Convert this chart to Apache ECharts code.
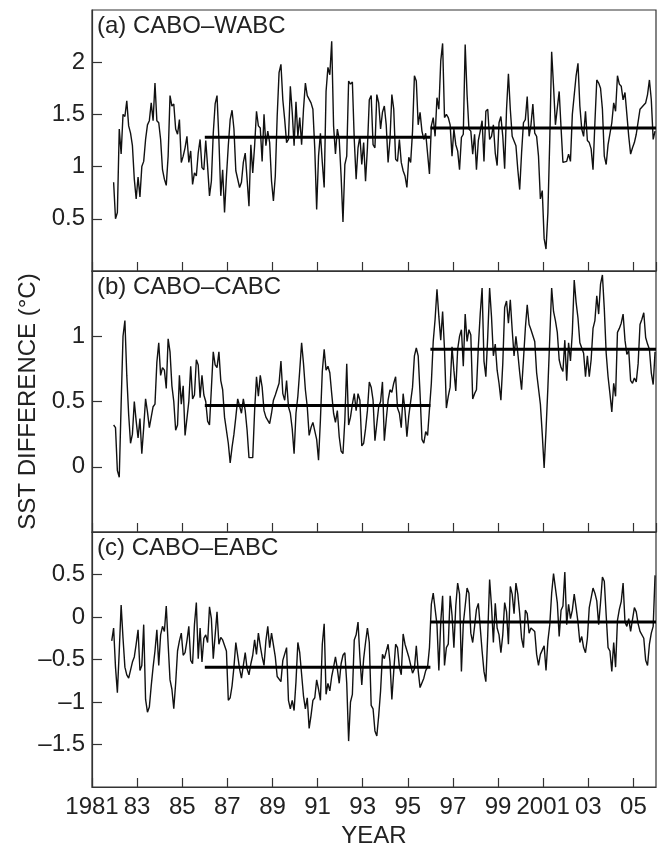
<!DOCTYPE html>
<html>
<head>
<meta charset="utf-8">
<script src="https://cdn.jsdelivr.net/npm/echarts@6/dist/echarts.min.js"></script>
<style>
html, body { margin: 0; padding: 0; background: #fff; }
#chart { width: 659px; height: 849px; }
</style>
</head>
<body>
<div id="chart"></div>
<script>
// 面板标题
const panelNames = ['(a) CABO\u2013WABC', '(b) CABO\u2013CABC', '(c) CABO\u2013EABC'];

// 月均SST差值 (°C), 从 startYears 开始每月一个点
const wabc = [
    0.85,0.50,0.56,1.36,1.12,1.50,1.48,1.63,1.39,1.32,1.20,0.88,0.69,0.90,0.71,1.00,1.05,1.26,1.40,1.44,
    1.61,1.44,1.80,1.44,1.42,1.26,0.97,0.88,0.82,1.10,1.68,1.58,1.60,1.36,1.31,1.45,1.04,1.10,1.18,1.29,
    1.04,1.15,0.83,0.94,0.91,1.13,1.26,0.99,0.97,1.25,1.00,0.72,0.86,1.32,1.60,1.68,1.26,
    0.72,0.97,0.56,0.90,1.20,1.45,1.54,1.36,0.96,0.97,0.80,0.85,1.04,1.13,0.88,0.62,1.21,0.94,1.20,1.53,
    1.39,1.37,1.05,1.50,1.20,1.34,1.23,0.86,0.67,0.91,1.48,1.90,1.98,1.64,1.45,1.23,1.26,1.77,1.52,1.20,
    1.62,1.29,1.47,1.21,1.55,1.80,1.68,1.69,1.61,1.55,1.17,0.59,1.10,1.32,1.04,0.80,1.72,1.95,1.88,2.20,
    1.39,1.12,1.36,1.26,0.91,0.47,1.02,1.10,1.82,1.79,1.81,1.26,0.88,1.18,1.29,1.02,1.23,0.86,1.18,1.64,
    1.68,1.21,1.18,1.69,1.61,1.36,1.52,1.58,1.40,1.04,1.26,1.69,1.55,1.07,1.05,1.26,1.04,0.96,0.91,0.80,
    1.09,1.04,1.34,1.87,1.82,1.40,1.52,1.34,1.26,1.32,1.31,0.93,
    1.39,1.47,1.29,1.66,1.55,2.01,2.18,1.47,1.50,1.47,1.40,1.10,1.36,1.21,1.15,0.97,1.28,1.31,2.17,1.69,
    1.36,1.34,1.12,1.31,0.97,1.25,1.34,1.44,1.05,1.53,1.55,1.26,1.29,1.40,1.13,1.01,1.42,1.48,1.29,0.98,
    1.55,1.89,1.55,1.29,1.29,1.20,0.97,0.78,1.13,1.42,1.45,1.67,1.29,1.40,1.60,1.32,1.29,1.10,0.69,0.77,
    0.31,0.21,0.56,1.26,2.10,1.77,1.40,1.40,1.72,1.37,1.04,1.05,1.05,1.12,1.05,1.50,1.50,1.87,1.99,1.58,
    1.36,1.29,1.53,1.25,1.23,1.17,0.97,1.42,1.83,1.80,1.75,1.55,1.10,1.02,1.21,1.20,1.42,1.61,1.53,1.87,
    1.79,1.77,1.64,1.71,1.50,1.29,1.12,1.18,1.23,1.31,1.32,1.55,1.56,1.59,1.61,1.69,1.83,1.64,1.26,1.34
];
const cabc = [
    0.32,0.30,-0.03,-0.08,0.48,1.00,1.12,0.70,0.40,0.18,0.25,0.50,0.35,0.22,0.37,0.10,0.30,0.52,0.42,0.30,
    0.38,0.46,0.48,0.80,0.95,0.70,0.76,0.74,0.60,0.98,0.88,0.62,0.50,0.28,0.32,0.70,0.48,0.62,0.24,0.24,
    0.50,0.77,0.52,0.55,0.82,0.78,0.53,0.70,0.55,0.50,0.35,0.32,0.60,0.88,0.78,0.76,0.88,
    0.66,0.59,0.38,0.37,0.18,0.03,0.15,0.25,0.38,0.52,0.52,0.41,0.52,0.43,0.28,0.07,0.06,0.07,0.43,0.69,
    0.54,0.70,0.61,0.43,0.38,0.37,0.33,0.41,0.51,0.55,0.54,0.64,0.81,0.56,0.51,0.66,0.46,0.41,0.29,0.10,
    0.41,0.54,0.74,0.95,0.79,0.59,0.46,0.24,0.30,0.34,0.33,0.21,0.05,0.36,0.73,0.90,0.74,0.77,0.72,0.56,
    0.41,0.34,0.43,0.23,0.12,0.10,0.36,0.79,0.32,0.38,0.48,0.56,0.43,0.56,0.51,0.16,0.18,0.29,0.43,0.65,
    0.61,0.51,0.20,0.33,0.46,0.50,0.65,0.20,0.36,0.51,0.59,0.57,0.64,0.69,0.45,0.41,0.30,0.56,0.43,0.23,
    0.39,0.39,0.61,0.85,0.91,0.85,0.56,0.21,0.18,0.27,0.24,0.24,
    0.64,0.96,1.13,1.36,1.15,0.97,1.19,0.90,0.45,0.54,0.61,0.92,0.74,0.58,0.90,1.00,1.05,0.77,1.17,0.96,
    1.05,1.01,0.52,0.56,0.59,0.92,1.17,1.37,0.81,0.69,1.00,1.37,1.15,0.85,0.94,0.74,0.64,0.51,0.79,1.22,
    1.27,1.10,1.28,1.05,0.85,1.00,0.87,0.72,0.59,0.82,1.06,1.24,1.09,1.05,1.04,0.96,0.72,0.73,0.48,0.25,
    -0.01,0.28,0.61,0.99,1.37,1.19,1.12,1.03,0.82,0.76,0.73,0.97,0.66,0.95,0.81,1.03,1.43,1.26,1.14,0.95,
    0.94,0.87,0.69,0.85,0.69,0.82,1.06,1.12,1.31,1.17,1.40,1.47,1.21,0.87,0.69,0.56,0.42,0.64,0.54,1.03,
    1.06,1.10,1.17,0.97,0.86,0.89,0.66,0.64,0.68,0.65,0.79,1.09,1.13,1.18,0.99,0.94,0.90,0.72,0.63,0.88
];
const eabc = [
    -0.28,-0.13,-0.59,-0.89,-0.40,0.14,-0.25,-0.59,-0.68,-0.72,-0.72,-0.53,-0.47,-0.32,-0.15,-0.63,-0.57,-0.09,-0.97,-1.12,
    -1.06,-0.81,-0.59,-0.40,-0.15,-0.57,-0.21,-0.11,-0.17,0.13,-0.32,-0.74,-0.85,-1.08,-0.78,-0.40,-0.28,-0.19,-0.45,-0.42,
    -0.28,-0.11,-0.51,-0.55,-0.09,0.17,-0.49,-0.13,-0.53,-0.25,-0.21,-0.30,0.12,-0.02,-0.49,-0.49,0.06,
    -0.32,-0.24,-0.27,-0.29,-0.40,-0.98,-0.95,-0.81,-0.59,-0.30,-0.30,-0.61,-0.72,-0.72,-0.42,-0.61,-0.68,-0.55,-0.45,-0.27,
    -0.44,-0.19,-0.34,-0.47,-0.57,-0.28,-0.11,-0.36,-0.19,-0.21,-0.47,-0.70,-0.72,-0.76,-0.51,-0.49,-0.36,-0.98,-1.08,-0.98,
    -1.10,-0.76,-0.30,-0.42,-0.42,-0.93,-1.08,-0.95,-1.31,-1.16,-0.98,-0.95,-0.74,-0.85,-0.98,-0.32,-0.08,-0.91,-0.78,-0.87,
    -0.70,-0.59,-0.47,-0.61,-0.78,-0.55,-0.45,-0.42,-0.78,-1.46,-1.00,-0.91,-0.27,-0.21,-0.06,-0.47,-0.80,-0.49,-0.30,-0.13,
    -0.30,-1.04,-1.08,-1.34,-1.40,-1.16,-0.87,-0.44,-0.49,-0.47,-0.32,-0.53,-0.97,-0.64,-0.32,-0.36,-0.59,-0.68,-0.20,-0.32,
    -0.30,-0.47,-0.49,-0.66,-0.61,-0.34,-0.63,-0.83,-0.84,-0.72,-0.63,-0.59,
    -0.36,0.15,0.28,0.30,-0.09,-0.63,-0.06,0.25,-0.57,-0.36,-0.32,0.25,0.02,-0.36,0.13,0.40,0.27,-0.64,-0.08,0.13,
    0.34,0.28,-0.19,-0.30,-0.11,0.09,0.16,0.17,-0.40,-0.64,-0.76,-0.21,0.44,0.13,-0.30,0.16,-0.13,-0.21,-0.42,-0.21,
    0.17,0.06,-0.32,0.36,0.27,0.04,0.40,0.27,0.04,-0.25,-0.36,0.08,0.04,-0.19,-0.13,-0.15,-0.17,-0.44,-0.57,-0.44,
    -0.44,-0.34,-0.63,-0.28,-0.09,0.28,0.51,0.49,0.17,-0.23,0.08,0.13,0.53,-0.09,0.15,-0.02,0.08,0.27,0.11,-0.06,
    -0.30,-0.23,-0.36,-0.42,-0.25,0.11,0.11,0.34,0.28,0.19,-0.09,0.17,0.47,0.42,0.02,-0.36,-0.40,-0.64,-0.30,-0.59,
    -0.04,0.09,0.18,0.40,-0.06,-0.11,-0.02,-0.17,-0.15,0.11,0.06,-0.08,-0.17,-0.17,-0.25,-0.51,-0.57,-0.32,-0.19,-0.11,
    0.49
];
const startYears = [1981 + 11.5 / 12, 1981 + 11.5 / 12, 1981 + 10.5 / 12];

// 分段均值: 1986-1996, 1996-2006
const meanBreaks = [1986, 1996, 2006];
const meanWabc = [1.28, 1.37];
const meanCabc = [0.47, 0.90];
const meanEabc = [-0.59, -0.06];

// 坐标轴
const xStart = 1981;
const xEnd = 2006;
const xLabels = ['1981', '83', '85', '87', '89', '91', '93', '95', '97', '99', '2001', '03', '05'];
const yMins = [0, -0.5, -2];
const yMaxs = [2.5, 1.5, 1];

const font = "'Liberation Sans', Arial, sans-serif";
const textColor = '#222';
const lineColor = '#333';
const grids = [
    { left: 92, top: 10, width: 564, height: 261 },
    { left: 92, top: 271, width: 564, height: 261 },
    { left: 92, top: 532, width: 564, height: 262 }
];

function toPairs(values, start) {
    return values.map(function (v, i) { return [start - xStart + i / 12, v]; });
}

function meanPairs(means) {
    var out = [];
    means.forEach(function (m, i) {
        if (i > 0) out.push([meanBreaks[i] - xStart, '-']);
        out.push([meanBreaks[i] - xStart, m]);
        out.push([meanBreaks[i + 1] - xStart, m]);
    });
    return out;
}

const seriesValues = [wabc, cabc, eabc];
const seriesMeans = [meanWabc, meanCabc, meanEabc];

var dom = document.getElementById('chart');
var myChart = echarts.init(dom, null, { renderer: 'canvas' });

var xAxes = [], yAxes = [], series = [], titles = [];
grids.forEach(function (g, k) {
    var last = k === grids.length - 1;
    xAxes.push({
        type: 'value', gridIndex: k,
        min: 0, max: xEnd - xStart, interval: 2,
        axisLine: { show: true, onZero: false, lineStyle: { color: lineColor, width: 1.2 } },
        axisTick: { show: true, inside: true, length: 9, lineStyle: { color: lineColor, width: 1.2 } },
        splitLine: { show: false },
        axisLabel: {
            show: last, margin: 8, showMaxLabel: false,
            fontFamily: font, fontSize: 24, color: textColor,
            formatter: function (v) { return v % 2 === 0 ? (xLabels[v / 2] || '') : ''; }
        },
        name: last ? 'YEAR' : '',
        nameLocation: 'middle', nameGap: 37,
        nameTextStyle: { fontFamily: font, fontSize: 24, color: textColor }
    });
    yAxes.push({
        type: 'value', gridIndex: k,
        min: yMins[k], max: yMaxs[k], interval: 0.5,
        axisLine: { show: true, onZero: false, lineStyle: { color: lineColor, width: 1.2 } },
        axisTick: { show: true, inside: true, length: 10, lineStyle: { color: lineColor, width: 1.2 } },
        splitLine: { show: false },
        axisLabel: {
            margin: 7, showMinLabel: false, showMaxLabel: false,
            fontFamily: font, fontSize: 24, color: textColor,
            formatter: function (v) { return String(v).replace('-', '\u2013'); }
        },
        name: k === 1 ? 'SST DIFFERENCE (\u00B0C)' : '',
        nameLocation: 'middle', nameRotate: 90, nameGap: 52,
        nameTextStyle: { fontFamily: font, fontSize: 24, color: textColor }
    });
    series.push({
        type: 'line', xAxisIndex: k, yAxisIndex: k,
        data: toPairs(seriesValues[k], startYears[k]),
        showSymbol: false, silent: true,
        lineStyle: { color: '#111', width: 1.4 }
    });
    series.push({
        type: 'line', xAxisIndex: k, yAxisIndex: k,
        data: meanPairs(seriesMeans[k]),
        showSymbol: false, silent: true, connectNulls: false,
        lineStyle: { color: '#000', width: 3 }
    });
    titles.push({
        text: panelNames[k], left: 97, top: g.top + 4, padding: 0,
        textStyle: { fontFamily: font, fontSize: 24, fontWeight: 'normal', color: textColor }
    });
});

var option = {
    animation: false,
    backgroundColor: '#fff',
    title: titles,
    grid: grids.map(function (g) {
        return Object.assign({ show: true, borderColor: lineColor, borderWidth: 1.2, backgroundColor: 'transparent' }, g);
    }),
    xAxis: xAxes,
    yAxis: yAxes,
    series: series
};

if (option && typeof option === 'object') {
    myChart.setOption(option, true);
}
</script>
</body>
</html>
